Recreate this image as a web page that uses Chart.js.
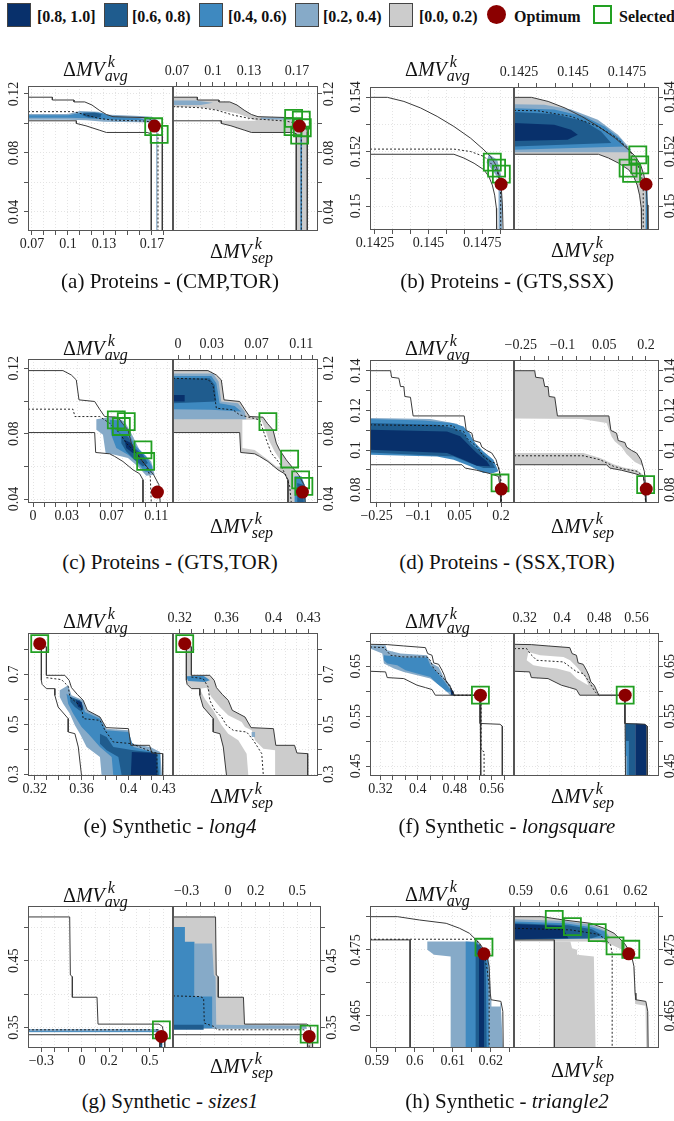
<!DOCTYPE html>
<html>
<head>
<meta charset="utf-8">
<script src="https://cdn.jsdelivr.net/npm/chart.js@4.4.1/dist/chart.umd.min.js"></script>
<style>
  body { margin: 0; width: 674px; height: 1121px; position: relative; overflow: hidden; background: #fff; font-family: "Liberation Serif", serif; color: #111; }
  canvas { position: absolute; }
  .lg { position: absolute; top: 3px; width: 22px; height: 22px; border: 1px solid #444; }
  .lt { position: absolute; top: 9px; font-weight: bold; font-size: 16px; line-height: 16px; white-space: nowrap; }
  .ttl { position: absolute; font-size: 20px; line-height: 20px; white-space: nowrap; }
  .ttl .s { position: relative; }
  .ttl .s i { position: absolute; font-size: 16px; line-height: 16px; }
  .cap { position: absolute; width: 340px; text-align: center; font-size: 21px; line-height: 21px; white-space: nowrap; }
</style>
</head>
<body>
<div class="lg" style="left:7px;background:#08306b"></div><div class="lt" style="left:37px">[0.8, 1.0]</div>
<div class="lg" style="left:104px;background:#1f5c8e"></div><div class="lt" style="left:132px">[0.6, 0.8)</div>
<div class="lg" style="left:199px;background:#3e89c0"></div><div class="lt" style="left:228px">[0.4, 0.6)</div>
<div class="lg" style="left:295px;background:#86aac8"></div><div class="lt" style="left:323px">[0.2, 0.4)</div>
<div class="lg" style="left:389px;background:#cccccc"></div><div class="lt" style="left:419px">[0.0, 0.2)</div>
<div style="position:absolute;left:487px;top:5px;width:19px;height:19px;border-radius:50%;background:#8b0000"></div><div class="lt" style="left:514px">Optimum</div>
<div style="position:absolute;left:593px;top:5px;width:15px;height:15px;border:2px solid #22a022"></div><div class="lt" style="left:619px">Selected</div>

<script>
// ---- (a) Proteins - (CMP,TOR)
const aXRange = [0.0667, 0.1875];
const aYRange = [0.0271, 0.1254];
const aXTicks = [0.07, 0.08, 0.09, 0.1, 0.11, 0.12, 0.13, 0.14, 0.15, 0.16, 0.17, 0.18];
const aXLabels = ['0.07', '', '', '0.1', '', '', '0.13', '', '', '', '0.17', ''];
const aYTicks = [0.04, 0.06, 0.08, 0.1, 0.12];
const aYLabels = ['0.04', '', '0.08', '', '0.12'];
const aUpper = [[0.0667,0.1178],[0.087,0.1178],[0.087,0.1159],[0.105,0.1159],[0.105,0.1146],[0.114,0.1146],[0.12,0.1125],[0.126,0.109],[0.132,0.1061],[0.1375,0.1046],[0.1667,0.1039],[0.1708,0.1012],[0.175,0.099],[0.1778,0.0978],[0.1786,0.0944],[0.1786,0.0271]];
const aLower = [[0.0667,0.1018],[0.107,0.1018],[0.107,0.1],[0.115,0.0984],[0.126,0.0955],[0.132,0.0939],[0.166,0.0939],[0.1694,0.093],[0.1694,0.0271]];
const aMedL = [[0.0667,0.108],[0.105,0.108],[0.115,0.1057],[0.126,0.1034],[0.1375,0.1023],[0.165,0.1016],[0.1736,0.1],[0.175,0.098],[0.175,0.0271]];
const aMedR = [[0.0667,0.1114],[0.0889,0.1107],[0.1028,0.1091],[0.1167,0.1057],[0.1306,0.1034],[0.1611,0.1016],[0.1722,0.0995],[0.1736,0.097],[0.1736,0.0271]];
const aFillL = [
  [1, [[0.0667,0.1065],[0.1,0.1065],[0.11,0.1085],[0.125,0.108],[0.13,0.106],[0.16,0.105],[0.17,0.1045],[0.175,0.102],[0.175,0.1005],[0.16,0.1008],[0.13,0.1012],[0.115,0.1022],[0.1,0.1025],[0.0667,0.1025]]],
  [2, [[0.0667,0.1055],[0.1,0.1055],[0.112,0.1075],[0.128,0.1072],[0.135,0.105],[0.16,0.1035],[0.165,0.1022],[0.135,0.1025],[0.115,0.1035],[0.1,0.1038],[0.0667,0.1038]]],
  [3, [[0.113,0.1072],[0.122,0.1075],[0.128,0.1065],[0.127,0.104],[0.117,0.104],[0.112,0.1055]]],
  [1, [[0.1735,0.098],[0.1745,0.098],[0.1745,0.0271],[0.1735,0.0271]]]
];
const aFillR = [
  [0, [[0.0667,0.1178],[0.087,0.1178],[0.087,0.1159],[0.105,0.1159],[0.105,0.1146],[0.114,0.1146],[0.12,0.1125],[0.126,0.109],[0.132,0.1061],[0.1375,0.1046],[0.1667,0.1039],[0.1667,0.101],[0.14,0.1005],[0.128,0.1045],[0.12,0.107],[0.105,0.109],[0.09,0.111],[0.0667,0.1112]]],
  [0, [[0.105,0.1018],[0.166,0.1018],[0.1694,0.1],[0.1694,0.093],[0.166,0.0939],[0.132,0.0939],[0.126,0.0955],[0.115,0.0984],[0.107,0.1]]],
  [0, [[0.1694,0.1005],[0.1786,0.0985],[0.1786,0.0271],[0.1694,0.0271]]],
  [1, [[0.0667,0.1155],[0.085,0.1155],[0.1,0.114],[0.09,0.1125],[0.0667,0.1125]]],
  [1, [[0.14,0.104],[0.165,0.104],[0.165,0.1025],[0.14,0.1028]]],
  [2, [[0.1728,0.098],[0.1742,0.098],[0.1742,0.0271],[0.1728,0.0271]]]
];
const aOpt = [0.172, 0.0982];
const aSelL = [[0.1714,0.0978],[0.176,0.0926]];
const aSelR = [[0.1672,0.1034],[0.1736,0.1023],[0.1667,0.0978],[0.1744,0.0971],[0.1722,0.0921]];

// ---- (b) Proteins - (GTS,SSX)
const bXRange = [0.14227, 0.14898];
const bYRange = [0.14912, 0.15437];
const bXTicks = [0.1425, 0.14333, 0.14417, 0.145, 0.14583, 0.14667, 0.1475, 0.14833];
const bXLabels = ['0.1425', '', '', '0.145', '', '', '0.1475', ''];
const bYTicks = [0.15, 0.151, 0.152, 0.153, 0.154];
const bYLabels = ['0.15', '', '0.152', '', '0.154'];
const bUpper = [[0.14227,0.15399],[0.14308,0.15399],[0.14385,0.15384],[0.14463,0.1536],[0.1454,0.15329],[0.14618,0.15292],[0.14696,0.15249],[0.14758,0.15206],[0.14789,0.15182],[0.14813,0.15151],[0.14828,0.15114],[0.14839,0.15065],[0.14844,0.15004],[0.14847,0.14912]];
const bLower = [[0.14227,0.1519],[0.14618,0.1519],[0.14665,0.15176],[0.14712,0.15157],[0.14758,0.15133],[0.14781,0.15108],[0.14797,0.15077],[0.14808,0.1504],[0.14816,0.14992],[0.14817,0.14912]];
const bMedL = [[0.14227,0.15209],[0.14618,0.15209],[0.14696,0.152],[0.14758,0.15182],[0.14797,0.15151],[0.1482,0.15127],[0.14831,0.1509],[0.14836,0.15041],[0.14836,0.14912]];
const bMedR = [[0.14227,0.15351],[0.14336,0.1535],[0.14491,0.15329],[0.14615,0.15292],[0.14693,0.15255],[0.14755,0.15212],[0.14794,0.15163],[0.14817,0.15114],[0.14825,0.15065],[0.14825,0.14912]];
const bFillL = [
  [1, [[0.1478,0.1519],[0.1482,0.1517],[0.14842,0.151],[0.14842,0.14912],[0.14828,0.14912],[0.14826,0.151],[0.1477,0.1516]]]
];
const bFillR = [
  [0, 'env'],
  [1, [[0.14227,0.15374],[0.14367,0.15372],[0.14491,0.15354],[0.14615,0.15317],[0.14708,0.15262],[0.1477,0.15206],[0.14755,0.15197],[0.14227,0.15197]]],
  [2, [[0.14227,0.15359],[0.14413,0.15354],[0.14553,0.15329],[0.14646,0.15292],[0.14724,0.15243],[0.1474,0.15219],[0.14227,0.15207]]],
  [3, [[0.14227,0.15345],[0.14413,0.15338],[0.14553,0.15311],[0.1463,0.15274],[0.14677,0.15231],[0.14227,0.15219]]],
  [4, [[0.14227,0.15305],[0.14413,0.15298],[0.14491,0.1528],[0.14522,0.15262],[0.14475,0.15243],[0.14227,0.15239]]],
  [2, [[0.14836,0.15065],[0.14845,0.15065],[0.14845,0.14912],[0.14836,0.14912]]]
];
const bOpt = [0.14838, 0.1508];
const bSelL = [[0.14797,0.15161],[0.14817,0.15139],[0.14839,0.15117]];
const bSelR = [[0.148,0.15188],[0.14755,0.15139],[0.14809,0.15151],[0.14771,0.1512]];

// ---- (c) Proteins - (GTS,TOR)
const cXRange = [-0.0045, 0.1249];
const cYRange = [0.0376, 0.1257];
const cXTicks = [0, 0.01, 0.02, 0.03, 0.04, 0.05, 0.06, 0.07, 0.08, 0.09, 0.1, 0.11, 0.12];
const cXLabels = ['0', '', '', '0.03', '', '', '', '0.07', '', '', '', '0.11', ''];
const cYTicks = [0.04, 0.06, 0.08, 0.1, 0.12];
const cYLabels = ['0.04', '', '0.08', '', '0.12'];
const cUpper = [[-0.0045,0.1186],[0.0267,0.1186],[0.0342,0.1159],[0.0386,0.1129],[0.041,0.1007],[0.055,0.0997],[0.0594,0.095],[0.0639,0.0905],[0.0758,0.0901],[0.0796,0.0864],[0.0847,0.0824],[0.0877,0.0742],[0.0906,0.0701],[0.0966,0.064],[0.1025,0.059],[0.1076,0.0549],[0.1123,0.0488],[0.1135,0.0376]];
const cLower = [[-0.0045,0.0807],[0.055,0.0807],[0.0559,0.0685],[0.0684,0.0677],[0.0728,0.0661],[0.0802,0.063],[0.0892,0.0579],[0.0951,0.0555],[0.0981,0.0518],[0.0981,0.0376]];
const cMedL = [[-0.0045,0.095],[0.0356,0.095],[0.0374,0.0905],[0.0594,0.0905],[0.0684,0.0864],[0.0773,0.0803],[0.0832,0.0742],[0.0921,0.0681],[0.1011,0.06],[0.1046,0.0539],[0.1055,0.0376]];
const cMedR = [[-0.0045,0.1139],[0.0267,0.1133],[0.0312,0.1098],[0.0342,0.0956],[0.049,0.0946],[0.055,0.0915],[0.0728,0.0885],[0.0758,0.0824],[0.0788,0.0763],[0.0832,0.0681],[0.0906,0.062],[0.0966,0.0539],[0.0996,0.0478],[0.1011,0.0376]];
const cFillL = [
  [1, [[0.0565,0.0889],[0.0728,0.0905],[0.0817,0.0874],[0.0877,0.0803],[0.0951,0.0701],[0.1055,0.063],[0.1085,0.0549],[0.1011,0.0543],[0.0936,0.06],[0.0847,0.0651],[0.0728,0.0671],[0.0648,0.0681],[0.0624,0.0793],[0.0565,0.0824]]],
  [2, [[0.0684,0.0885],[0.0788,0.0881],[0.0847,0.0813],[0.0906,0.0732],[0.1011,0.0661],[0.1064,0.06],[0.1055,0.0559],[0.0996,0.0569],[0.0921,0.063],[0.0847,0.0671],[0.0743,0.0712],[0.0698,0.0793]]],
  [3, [[0.0788,0.0793],[0.0847,0.0783],[0.0906,0.0712],[0.0981,0.0671],[0.1025,0.062],[0.0981,0.06],[0.0906,0.064],[0.0832,0.0691],[0.0788,0.0742]]],
  [4, [[0.0817,0.0763],[0.0877,0.0742],[0.0921,0.0691],[0.0892,0.0681],[0.0832,0.0712]]]
];
const cFillR = [
  [0, 'env'],
  [-1, [[0.0574,0.0885],[0.0743,0.0885],[0.0779,0.0824],[0.0808,0.0763],[0.0862,0.0691],[0.0921,0.063],[0.0927,0.06],[0.0877,0.06],[0.0802,0.064],[0.0684,0.0701],[0.0574,0.0712]]],
  [1, [[-0.0045,0.1169],[0.0312,0.1169],[0.0362,0.1119],[0.0386,0.0997],[0.0535,0.0986],[0.0594,0.0936],[0.0609,0.0889],[-0.0045,0.0889]]],
  [2, [[-0.0045,0.1153],[0.0297,0.1153],[0.0342,0.1108],[0.0371,0.0986],[0.0505,0.097],[0.0565,0.0936],[0.0297,0.0946],[-0.0045,0.095]]],
  [3, [[-0.0045,0.1139],[0.0282,0.1139],[0.0327,0.1098],[0.0342,0.0997],[-0.0045,0.0986]]],
  [4, [[-0.0045,0.1037],[0.0059,0.1037],[0.0059,0.0997],[-0.0045,0.0997]]],
  [2, [[0.104,0.0539],[0.11,0.0539],[0.1135,0.0478],[0.1141,0.0376],[0.104,0.0376]]],
  [3, [[0.1064,0.0498],[0.1114,0.0488],[0.1123,0.0376],[0.1064,0.0376]]]
];
const cOpt = [0.111, 0.0443];
const cSelL = [[0.0743,0.0885],[0.0832,0.0874],[0.0788,0.0844],[0.0981,0.0701],[0.1005,0.063]];
const cSelR = [[0.0802,0.0874],[0.0996,0.0645],[0.1094,0.0518],[0.1123,0.0478]];

// ---- (d) Proteins - (SSX,TOR)
const dXRange = [-0.274, 0.2468];
const dYRange = [0.0733, 0.1454];
const dXTicks = [-0.25, -0.2, -0.15, -0.1, -0.05, 0, 0.05, 0.1, 0.15, 0.2];
const dXLabels = ['\u22120.25', '', '', '\u22120.1', '', '', '0.05', '', '', '0.2'];
const dYTicks = [0.08, 0.09, 0.1, 0.11, 0.12, 0.13, 0.14];
const dYLabels = ['0.08', '', '0.1', '', '0.12', '', '0.14'];
const dUpper = [[-0.274,0.14],[-0.1996,0.14],[-0.196,0.1367],[-0.1696,0.1362],[-0.1636,0.132],[-0.1516,0.132],[-0.148,0.127],[-0.1276,0.1266],[-0.118,0.1172],[0.0668,0.1172],[0.074,0.1099],[0.0944,0.1085],[0.1004,0.1048],[0.1244,0.1038],[0.1304,0.1015],[0.1484,0.0998],[0.1664,0.0985],[0.182,0.0951],[0.194,0.0893],[0.1988,0.0817],[0.2012,0.0733]];
const dLower = [[-0.274,0.0926],[0.0584,0.0926],[0.0704,0.0909],[0.1124,0.0898],[0.1604,0.0881],[0.1904,0.0867],[0.1964,0.0817],[0.1988,0.0733]];
const dMedL = [[-0.274,0.1127],[0.0284,0.1122],[0.0344,0.1102],[0.0644,0.1094],[0.0764,0.106],[0.0884,0.1043],[0.1124,0.1018],[0.1364,0.0968],[0.1604,0.0943],[0.1784,0.0934],[0.1904,0.0918],[0.1988,0.0867],[0.2012,0.0733]];
const dMedR = [[-0.274,0.0971],[-0.0244,0.0971],[0.0356,0.0951],[0.0836,0.0918],[0.1196,0.0904],[0.1676,0.0893],[0.1916,0.0867],[0.1988,0.0733]];
const dFillL = [
  [1, [[-0.274,0.1161],[-0.055,0.1156],[0.0404,0.1133],[0.0824,0.1094],[0.0944,0.1069],[0.0644,0.1085],[-0.274,0.1145]]],
  [2, [[-0.274,0.1156],[-0.0796,0.1149],[0.0224,0.1136],[0.0644,0.1119],[0.0884,0.1077],[0.1064,0.1035],[0.1364,0.0993],[0.1724,0.0951],[0.1904,0.0893],[0.1724,0.0884],[0.1364,0.0884],[0.0884,0.0918],[0.0284,0.0951],[-0.0316,0.0968],[-0.274,0.0976]]],
  [3, [[-0.274,0.1136],[-0.0316,0.1127],[0.0284,0.111],[0.0644,0.1085],[0.0884,0.1035],[0.1244,0.0993],[0.1664,0.0943],[0.1784,0.0909],[0.1364,0.0909],[0.0884,0.0934],[0.0284,0.0968],[-0.274,0.0988]]],
  [4, [[-0.274,0.1102],[0.0044,0.1094],[0.0524,0.1069],[0.0824,0.1027],[0.1124,0.0985],[0.1484,0.0943],[0.1604,0.0918],[0.1124,0.0921],[0.0644,0.0951],[0.0044,0.0985],[-0.274,0.1001]]]
];
const dFillR = [
  [0, [[-0.274,0.14],[-0.1996,0.14],[-0.196,0.1367],[-0.1696,0.1362],[-0.1636,0.132],[-0.1516,0.132],[-0.148,0.127],[-0.1276,0.1266],[-0.118,0.1172],[0.0668,0.1172],[0.074,0.1099],[0.0944,0.1085],[0.1004,0.1048],[0.1244,0.1038],[0.1304,0.1015],[0.1484,0.0998],[0.1664,0.0985],[0.182,0.0951],[0.1904,0.0918],[0.16,0.094],[0.13,0.098],[0.1124,0.1015],[0.0884,0.1043],[0.0764,0.1068],[0.0584,0.1136],[-0.0316,0.1156],[-0.274,0.1159]]],
  [0, [[-0.274,0.0985],[-0.0244,0.0985],[0.0356,0.096],[0.0836,0.0928],[0.1196,0.0912],[0.1676,0.09],[0.1916,0.0873],[0.1964,0.0817],[0.1904,0.0867],[0.1604,0.0881],[0.1124,0.0898],[0.0704,0.0909],[0.0584,0.0926],[-0.274,0.0926]]],
  [2, [[0.1975,0.0817],[0.2012,0.0817],[0.2012,0.0733],[0.1975,0.0733]]]
];
const dOpt = [0.201, 0.0803];
const dSelL = [[0.1964,0.0834]];
const dSelR = [[0.1988,0.0826]];

// ---- (e) Synthetic - long4
const eXRange = [0.3143, 0.438];
const eYRange = [0.2933, 0.8653];
const eXTicks = [0.32, 0.33, 0.34, 0.35, 0.36, 0.37, 0.38, 0.39, 0.4, 0.41, 0.42, 0.43];
const eXLabels = ['0.32', '', '', '', '0.36', '', '', '', '0.4', '', '', '0.43'];
const eYTicks = [0.3, 0.4, 0.5, 0.6, 0.7, 0.8];
const eYLabels = ['0.3', '', '0.5', '', '0.7', ''];
const eUpper = [[0.3257,0.81],[0.33,0.81],[0.33,0.696],[0.3457,0.696],[0.3494,0.676],[0.3514,0.6467],[0.3563,0.62],[0.3614,0.596],[0.3649,0.556],[0.3757,0.5293],[0.3809,0.4867],[0.4,0.4827],[0.402,0.416],[0.418,0.416],[0.42,0.3854],[0.4292,0.3827],[0.4292,0.2933]];
const eLower = [[0.3257,0.81],[0.3257,0.676],[0.3263,0.66],[0.33,0.6427],[0.3372,0.6427],[0.3372,0.616],[0.34,0.5693],[0.3486,0.5227],[0.3486,0.4693],[0.3543,0.4627],[0.3572,0.4094],[0.36,0.2933]];
const eMedL = [[0.33,0.6867],[0.3429,0.6787],[0.3486,0.652],[0.35,0.6093],[0.36,0.5693],[0.3614,0.5227],[0.3757,0.516],[0.38,0.476],[0.3871,0.4293],[0.4029,0.4227],[0.42,0.3893],[0.4243,0.3854],[0.4243,0.2933]];
const eMedR = [[0.33,0.6893],[0.34,0.6827],[0.3443,0.6493],[0.3457,0.596],[0.35,0.556],[0.3557,0.5293],[0.36,0.496],[0.3657,0.476],[0.3771,0.4693],[0.3829,0.436],[0.39,0.3827],[0.3914,0.2933]];
const eFillL = [
  [1, [[0.3414,0.636],[0.3486,0.656],[0.3514,0.616],[0.3614,0.596],[0.3643,0.556],[0.3757,0.5293],[0.3814,0.4827],[0.4,0.476],[0.4029,0.4227],[0.4186,0.4094],[0.4271,0.3893],[0.4286,0.2933],[0.3771,0.2933],[0.3757,0.3693],[0.3643,0.4094],[0.3586,0.4627],[0.3543,0.496],[0.35,0.5427],[0.3443,0.5827],[0.3414,0.6093]]],
  [2, [[0.3471,0.6227],[0.3514,0.6093],[0.36,0.5893],[0.3629,0.5493],[0.3757,0.5227],[0.3809,0.476],[0.4,0.4693],[0.4043,0.4094],[0.4271,0.3827],[0.4271,0.2933],[0.3871,0.2933],[0.3857,0.3693],[0.3757,0.4094],[0.3657,0.4627],[0.36,0.4893],[0.3529,0.5427],[0.3486,0.5827]]],
  [3, [[0.35,0.6093],[0.3586,0.596],[0.3614,0.5693],[0.36,0.5493],[0.3543,0.5693],[0.3506,0.5893]]],
  [3, [[0.3757,0.4627],[0.3814,0.4493],[0.3871,0.4094],[0.4043,0.396],[0.4243,0.3854],[0.426,0.2933],[0.3943,0.2933],[0.3914,0.3693],[0.3814,0.396],[0.3757,0.4227]]],
  [4, [[0.3551,0.596],[0.36,0.5893],[0.3609,0.5627],[0.3571,0.5693]]],
  [4, [[0.4029,0.3893],[0.4237,0.3854],[0.4243,0.2933],[0.402,0.2933]]]
];
const eFillR = [
  [0, 'env'],
  [-1, [[0.3371,0.6427],[0.3429,0.6467],[0.3471,0.6093],[0.3543,0.5693],[0.3614,0.536],[0.3729,0.5093],[0.3757,0.4893],[0.3814,0.476],[0.3843,0.436],[0.3914,0.4027],[0.4014,0.396],[0.4014,0.2933],[0.3786,0.2933],[0.3771,0.3827],[0.37,0.436],[0.3614,0.4627],[0.3557,0.4973],[0.3486,0.556],[0.3414,0.6027]]],
  [2, [[0.3257,0.692],[0.34,0.6947],[0.3429,0.6867],[0.3457,0.676],[0.3414,0.6693],[0.3271,0.6733]]],
  [1, [[0.3814,0.4693],[0.3843,0.4693],[0.3843,0.4493],[0.3814,0.4493]]]
];
const eOpt = [0.3243, 0.8226];
const eSelL = [[0.3243,0.8226]];
const eSelR = [[0.3243,0.8226]];

// ---- (f) Synthetic - longsquare
const fXRange = [0.2971, 0.608];
const fYRange = [0.43, 0.7167];
const fXTicks = [0.32, 0.3467, 0.3733, 0.4, 0.4267, 0.4533, 0.48, 0.5067, 0.5333, 0.56, 0.5867];
const fXLabels = ['0.32', '', '', '0.4', '', '', '0.48', '', '', '0.56', ''];
const fYTicks = [0.45, 0.5, 0.55, 0.6, 0.65, 0.7];
const fYLabels = ['0.45', '', '0.55', '', '0.65', ''];
const fUpper = [[0.2971,0.694],[0.3343,0.6934],[0.3701,0.6907],[0.4167,0.6874],[0.4217,0.6754],[0.431,0.672],[0.4346,0.6567],[0.4453,0.654],[0.4525,0.642],[0.4575,0.632],[0.4618,0.6187],[0.469,0.612],[0.474,0.602],[0.479,0.592],[0.5348,0.592],[0.5348,0.5353],[0.5777,0.5337],[0.5828,0.53],[0.5828,0.43]];
const fLower = [[0.2971,0.64],[0.3307,0.6387],[0.3343,0.6273],[0.3701,0.6253],[0.3988,0.612],[0.4167,0.6073],[0.431,0.6033],[0.4381,0.592],[0.5348,0.592],[0.5362,0.43]];
const fMedL = [[0.2971,0.6887],[0.3272,0.6874],[0.3415,0.672],[0.3701,0.6687],[0.4202,0.6687],[0.4274,0.662],[0.4346,0.6454],[0.4489,0.632],[0.4632,0.6187],[0.474,0.602],[0.4775,0.592],[0.537,0.592],[0.537,0.482],[0.5434,0.4786],[0.5434,0.43]];
const fMedR = [[0.2971,0.6854],[0.3243,0.6854],[0.3315,0.6754],[0.3458,0.662],[0.4031,0.6587],[0.4174,0.6487],[0.4317,0.6387],[0.446,0.6354],[0.4603,0.6154],[0.4711,0.5987],[0.4782,0.592]];
const fFillL = [
  [1, [[0.2971,0.692],[0.3307,0.692],[0.3343,0.682],[0.363,0.6754],[0.4202,0.672],[0.431,0.6554],[0.4453,0.6487],[0.456,0.6287],[0.4704,0.612],[0.4775,0.592],[0.4704,0.592],[0.456,0.6054],[0.4417,0.6154],[0.4274,0.6254],[0.3988,0.632],[0.3701,0.6387],[0.3487,0.6454],[0.3272,0.6554],[0.3236,0.6754],[0.2971,0.6854]]],
  [2, [[0.3272,0.672],[0.3701,0.6674],[0.4202,0.6674],[0.4274,0.652],[0.4381,0.642],[0.456,0.622],[0.474,0.5987],[0.4632,0.5987],[0.4417,0.6154],[0.4274,0.6287],[0.3988,0.6354],[0.3737,0.642],[0.3558,0.652],[0.3343,0.6554],[0.3272,0.662]]],
  [4, [[0.4704,0.6054],[0.4775,0.6],[0.479,0.592],[0.4725,0.592]]]
];
const fFillR = [
  [0, [[0.2971,0.694],[0.3343,0.6934],[0.3701,0.6907],[0.4167,0.6874],[0.4217,0.6754],[0.431,0.672],[0.4346,0.6567],[0.4453,0.654],[0.4525,0.642],[0.4575,0.632],[0.4618,0.6187],[0.469,0.612],[0.474,0.602],[0.479,0.592],[0.4381,0.592],[0.431,0.6033],[0.4167,0.6073],[0.3988,0.612],[0.3701,0.6253],[0.3343,0.6273],[0.3307,0.6387],[0.2971,0.64]]],
  [-1, [[0.3279,0.6787],[0.353,0.672],[0.4031,0.6687],[0.4174,0.662],[0.4317,0.6487],[0.4496,0.6287],[0.4568,0.612],[0.4496,0.6154],[0.4317,0.6254],[0.4174,0.6387],[0.3888,0.6454],[0.3601,0.6487],[0.3386,0.652],[0.3243,0.662]]],
  [3, [[0.5355,0.5353],[0.557,0.5353],[0.557,0.43],[0.5355,0.43]]],
  [4, [[0.557,0.5353],[0.5777,0.5345],[0.5815,0.531],[0.5815,0.43],[0.557,0.43]]],
  [2, [[0.5362,0.5],[0.5434,0.5],[0.5434,0.43],[0.5362,0.43]]],
  [1, [[0.5362,0.47],[0.5392,0.47],[0.5392,0.43],[0.5362,0.43]]]
];
const fOpt = [0.5355, 0.592];
const fSelL = [[0.5355,0.592]];
const fSelR = [[0.5355,0.592]];

// ---- (g) Synthetic - sizes1
const gXRange = [-0.3985, 0.6724];
const gYRange = [0.3192, 0.5321];
const gXTicks = [-0.3, -0.2, -0.1, 0, 0.1, 0.2, 0.3, 0.4, 0.5, 0.6];
const gXLabels = ['\u22120.3', '', '', '0', '', '0.2', '', '', '0.5', ''];
const gYTicks = [0.35, 0.4, 0.45, 0.5];
const gYLabels = ['0.35', '', '0.45', ''];
const gUpper = [[-0.3985,0.5157],[-0.0906,0.5157],[-0.0857,0.4286],[-0.0709,0.4261],[-0.0709,0.3953],[0.1113,0.3953],[0.1187,0.355],[0.5694,0.355],[0.594,0.3515],[0.6113,0.3317],[0.6113,0.3192]];
const gLower = [[-0.3985,0.3391],[0.5744,0.3391],[0.5744,0.3192]];
const gMedL = [[-0.3985,0.3465],[0.5645,0.3465],[0.584,0.34],[0.584,0.3192]];
const gMedR = [[-0.3985,0.3973],[-0.2015,0.3963],[-0.1768,0.3938],[-0.1719,0.3565],[-0.1029,0.3515],[-0.0783,0.3465],[0.5498,0.3465],[0.5867,0.3416],[0.5867,0.3192]];
const gFillL = [
  [1, [[-0.3985,0.3475],[0.5694,0.3475],[0.5694,0.343],[-0.3985,0.343]]],
  [2, [[-0.3985,0.3447],[0.5694,0.3447],[0.5694,0.3435],[-0.3985,0.3435]]],
  [2, [[0.5744,0.3391],[0.594,0.3391],[0.594,0.3192],[0.5744,0.3192]]],
  [3, [[0.582,0.335],[0.59,0.335],[0.59,0.3192],[0.582,0.3192]]]
];
const gFillR = [
  [0, [[-0.3985,0.5157],[-0.0906,0.5157],[-0.0857,0.4286],[-0.0709,0.4261],[-0.066,0.3953],[0.1138,0.3953],[0.1187,0.355],[0.5498,0.355],[0.5694,0.3515],[0.5694,0.3475],[-0.3985,0.3475]]],
  [0, [[0.5744,0.3391],[0.6113,0.3391],[0.6113,0.3192],[0.5744,0.3192]]],
  [1, [[-0.2433,0.4759],[-0.1153,0.4759],[-0.1029,0.4286],[-0.0906,0.4261],[-0.0857,0.354],[0.5621,0.3525],[0.5694,0.348],[-0.2433,0.348]]],
  [2, [[-0.3985,0.5008],[-0.3123,0.5008],[-0.3123,0.4784],[-0.2433,0.4784],[-0.2433,0.3963],[-0.1153,0.3963],[-0.1153,0.349],[-0.3985,0.349]]],
  [3, [[-0.3985,0.354],[-0.1768,0.354],[-0.1768,0.3465],[-0.3985,0.3465]]]
];
const gOpt = [0.5867, 0.3366];
const gSelL = [[0.5867,0.3465]];
const gSelR = [[0.5867,0.34]];

// ---- (h) Synthetic - triangle2
const hXRange = [0.58825, 0.62614];
const hYRange = [0.4601, 0.48167];
const hXTicks = [0.59, 0.595, 0.6, 0.605, 0.61, 0.615, 0.62, 0.625];
const hXLabels = ['0.59', '', '0.6', '', '0.61', '', '0.62', ''];
const hYTicks = [0.465, 0.47, 0.475, 0.48];
const hYLabels = ['0.465', '', '0.475', ''];
const hUpper = [[0.58825,0.48005],[0.5955,0.48005],[0.6012,0.47955],[0.6083,0.47904],[0.6118,0.47829],[0.6144,0.47753],[0.6171,0.47601],[0.6188,0.4745],[0.6196,0.47248],[0.6199,0.46844],[0.6201,0.46743],[0.6227,0.46718],[0.6232,0.46566],[0.6233,0.4601]];
const hLower = [[0.58825,0.47652],[0.5988,0.47652],[0.5988,0.4601]];
const hMedL = [[0.58825,0.47662],[0.6161,0.47662],[0.6174,0.47551],[0.6182,0.4745],[0.6191,0.47197],[0.6196,0.46945],[0.6196,0.4601]];
const hMedR = [[0.58825,0.47829],[0.603,0.47804],[0.61,0.4774],[0.6118,0.4768],[0.6135,0.47576],[0.6139,0.4745],[0.6139,0.4601]];
const hFillL = [
  [1, [[0.60333,0.47627],[0.61649,0.47627],[0.61824,0.47501],[0.6196,0.4735],[0.62,0.46743],[0.62263,0.46692],[0.62324,0.4601],[0.60947,0.4601],[0.60947,0.47399],[0.6051,0.47425],[0.60333,0.47501]]],
  [-1, [[0.6202,0.4674],[0.6225,0.4674],[0.6225,0.4664],[0.6202,0.4664]]],
  [2, [[0.61342,0.47627],[0.61649,0.47612],[0.61824,0.47475],[0.61929,0.47299],[0.6196,0.4601],[0.61342,0.4601]]],
  [3, [[0.61605,0.47601],[0.61737,0.47551],[0.61868,0.47399],[0.61895,0.4601],[0.61605,0.4601]]],
  [4, [[0.61693,0.47501],[0.61824,0.47475],[0.61824,0.4601],[0.61693,0.4601]]]
];
const hFillR = [
  [0, [[0.58825,0.48005],[0.5955,0.48005],[0.6012,0.47955],[0.6083,0.47904],[0.6118,0.47829],[0.6144,0.47753],[0.6171,0.47601],[0.6188,0.4745],[0.6165,0.47501],[0.6139,0.47576],[0.6104,0.47627],[0.58825,0.47627]]],
  [1, [[0.58825,0.47965],[0.60158,0.4794],[0.6086,0.47879],[0.6121,0.47793],[0.61342,0.47677],[0.58825,0.47652]]],
  [2, [[0.58825,0.4793],[0.60158,0.47904],[0.6086,0.47844],[0.61202,0.47778],[0.61289,0.47677],[0.58825,0.47662]]],
  [3, [[0.58825,0.47904],[0.60246,0.47874],[0.6086,0.47814],[0.61123,0.47728],[0.6086,0.47677],[0.58825,0.47662]]],
  [4, [[0.58825,0.47894],[0.6007,0.47864],[0.60246,0.47677],[0.58825,0.47662]]],
  [0, [[0.5988,0.47627],[0.60298,0.47627],[0.60342,0.47526],[0.60474,0.47501],[0.60474,0.47425],[0.60912,0.47399],[0.60956,0.4601],[0.5988,0.4601]]],
  [0, [[0.6196,0.47248],[0.6199,0.46844],[0.6201,0.46743],[0.6227,0.46718],[0.6232,0.46566],[0.6233,0.4601],[0.6228,0.4601],[0.6226,0.4665],[0.6199,0.4668],[0.6194,0.4725]]]
];
const hOpt = [0.61824, 0.4744];
const hSelL = [[0.61824,0.47541]];
const hSelR = [[0.59877,0.47965],[0.60351,0.47854],[0.61,0.47763],[0.61465,0.47561],[0.61877,0.4751]];

// colour for each value bin (-1 = no value, page background)
const PAL = {'-1': '#ffffff', 0: '#cccccc', 1: '#86aac8', 2: '#3e89c0', 3: '#1f5c8e', 4: '#08306b'};

const panels = [
  {X: aXRange, Y: aYRange, xt: aXTicks, xl: aXLabels, yt: aYTicks, yl: aYLabels, up: aUpper, lo: aLower, medL: aMedL, medR: aMedR, fillL: aFillL, fillR: aFillR, opt: aOpt, selL: aSelL, selR: aSelR, cap: '(a) Proteins - (CMP,TOR)'},
  {X: bXRange, Y: bYRange, xt: bXTicks, xl: bXLabels, yt: bYTicks, yl: bYLabels, up: bUpper, lo: bLower, medL: bMedL, medR: bMedR, fillL: bFillL, fillR: bFillR, opt: bOpt, selL: bSelL, selR: bSelR, cap: '(b) Proteins - (GTS,SSX)'},
  {X: cXRange, Y: cYRange, xt: cXTicks, xl: cXLabels, yt: cYTicks, yl: cYLabels, up: cUpper, lo: cLower, medL: cMedL, medR: cMedR, fillL: cFillL, fillR: cFillR, opt: cOpt, selL: cSelL, selR: cSelR, cap: '(c) Proteins - (GTS,TOR)'},
  {X: dXRange, Y: dYRange, xt: dXTicks, xl: dXLabels, yt: dYTicks, yl: dYLabels, up: dUpper, lo: dLower, medL: dMedL, medR: dMedR, fillL: dFillL, fillR: dFillR, opt: dOpt, selL: dSelL, selR: dSelR, cap: '(d) Proteins - (SSX,TOR)'},
  {X: eXRange, Y: eYRange, xt: eXTicks, xl: eXLabels, yt: eYTicks, yl: eYLabels, up: eUpper, lo: eLower, medL: eMedL, medR: eMedR, fillL: eFillL, fillR: eFillR, opt: eOpt, selL: eSelL, selR: eSelR, cap: '(e) Synthetic - <i>long4</i>'},
  {X: fXRange, Y: fYRange, xt: fXTicks, xl: fXLabels, yt: fYTicks, yl: fYLabels, up: fUpper, lo: fLower, medL: fMedL, medR: fMedR, fillL: fFillL, fillR: fFillR, opt: fOpt, selL: fSelL, selR: fSelR, cap: '(f) Synthetic - <i>longsquare</i>'},
  {X: gXRange, Y: gYRange, xt: gXTicks, xl: gXLabels, yt: gYTicks, yl: gYLabels, up: gUpper, lo: gLower, medL: gMedL, medR: gMedR, fillL: gFillL, fillR: gFillR, opt: gOpt, selL: gSelL, selR: gSelR, cap: '(g) Synthetic - <i>sizes1</i>'},
  {X: hXRange, Y: hYRange, xt: hXTicks, xl: hXLabels, yt: hYTicks, yl: hYLabels, up: hUpper, lo: hLower, medL: hMedL, medR: hMedR, fillL: hFillL, fillR: hFillR, opt: hOpt, selL: hSelL, selR: hSelR, cap: '(h) Synthetic - <i>triangle2</i>'}
];

// where each panel sits on the page (plot box edges, title baselines)
const boxes = [
  {col: 0,   l: 28,  d: 173, r: 318, t: 86,  b: 231,  ta: 76,  ts: 258,  cb: 289},
  {col: 337, l: 370, d: 514, r: 659, t: 87,  b: 230,  ta: 76,  ts: 257,  cb: 289},
  {col: 0,   l: 28,  d: 173, r: 318, t: 359, b: 503,  ta: 355, ts: 533,  cb: 570},
  {col: 337, l: 370, d: 514, r: 659, t: 360, b: 503,  ta: 355, ts: 533,  cb: 570},
  {col: 0,   l: 28,  d: 173, r: 318, t: 633, b: 776,  ta: 628, ts: 803,  cb: 834},
  {col: 337, l: 370, d: 514, r: 659, t: 633, b: 776,  ta: 628, ts: 803,  cb: 834},
  {col: 0,   l: 28,  d: 173, r: 321, t: 906, b: 1048, ta: 902, ts: 1073, cb: 1109},
  {col: 337, l: 370, d: 514, r: 659, t: 906, b: 1048, ta: 901, ts: 1077, cb: 1109}
];

const FONT = 'Liberation Serif';
const SPARE = 30;   // room beside each plot for x tick labels that stick out
const VSPARE = 14;  // room above/below for upright y tick labels

// box around the plot area
const frame = {
  id: 'frame',
  afterDatasetsDraw(chart) {
    const {ctx, chartArea: a} = chart;
    ctx.save();
    ctx.strokeStyle = '#555';
    ctx.lineWidth = 1;
    ctx.strokeRect(Math.round(a.left) + 0.5, Math.round(a.top) + 0.5, Math.round(a.right - a.left) - 1, Math.round(a.bottom - a.top) - 1);
    ctx.restore();
  }
};

// y tick labels standing upright along the axis, as in R
const yText = {
  id: 'yText',
  afterDraw(chart) {
    const s = chart.scales.y, a = chart.chartArea, ctx = chart.ctx;
    const bx = s.position === 'right' ? a.right + 15 : a.left - 10;
    ctx.save();
    ctx.font = '14px "' + FONT + '"';
    ctx.fillStyle = '#222';
    ctx.textAlign = 'center';
    ctx.textBaseline = 'alphabetic';
    s.ticks.forEach(t => {
      if (!t.label) return;
      ctx.save();
      ctx.translate(bx, s.getPixelForValue(t.value));
      ctx.rotate(-Math.PI / 2);
      ctx.fillText(t.label, 0, 0);
      ctx.restore();
    });
    ctx.restore();
  }
};

const xy = arr => arr.map(p => ({x: p[0], y: p[1]}));

function scaleOpts(pos, range, ticks, labels, size, pad) {
  const vertical = pos === 'left' || pos === 'right';
  return {
    type: 'linear',
    position: pos,
    min: range[0],
    max: range[1],
    afterBuildTicks: s => { s.ticks = ticks.map(v => ({value: v})); },
    afterFit: s => {
      if (vertical) s.width = size; else s.height = size;
      s.paddingLeft = 0; s.paddingRight = 0; s.paddingTop = 0; s.paddingBottom = 0;
    },
    ticks: {
      display: !vertical,
      autoSkip: false,
      maxRotation: 0,
      minRotation: 0,
      padding: pad,
      font: {family: FONT, size: 14},
      color: '#222',
      callback: (v, i) => labels[i]
    },
    grid: {color: '#e4e4e4', lineWidth: 1, drawTicks: true, tickLength: 4, tickColor: '#555', tickWidth: 1},
    border: {display: false, dash: [1, 2]}
  };
}

function datasets(p, side) {
  const fills = side === 'L' ? p.fillL : p.fillR;
  const med = side === 'L' ? p.medL : p.medR;
  const sel = side === 'L' ? p.selL : p.selR;
  const out = [];
  let ord = 500;
  fills.forEach(f => {
    const poly = f[1] === 'env' ? p.up.concat(p.lo.slice().reverse()) : f[1];
    out.push({data: xy(poly), showLine: true, fill: 'shape', backgroundColor: PAL[f[0]], borderColor: PAL[f[0]], borderWidth: 0, pointRadius: 0, order: ord--});
  });
  out.push({data: xy(p.up), showLine: true, fill: false, borderColor: '#3a3a3a', borderWidth: 1, pointRadius: 0, order: 30});
  out.push({data: xy(p.lo), showLine: true, fill: false, borderColor: '#3a3a3a', borderWidth: 1, pointRadius: 0, order: 30});
  out.push({data: xy(med), showLine: true, fill: false, borderColor: '#111', borderWidth: 0.9, borderDash: [2, 2], pointRadius: 0, order: 20});
  out.push({data: xy(sel), showLine: false, pointStyle: 'rect', pointRadius: 12, pointBorderWidth: 1.8, pointBorderColor: '#22a022', pointBackgroundColor: 'rgba(0,0,0,0)', borderColor: '#22a022', backgroundColor: 'rgba(0,0,0,0)', clip: false, order: 5});
  out.push({data: xy([p.opt]), showLine: false, pointStyle: 'circle', pointRadius: 6.5, pointBorderWidth: 0, pointBackgroundColor: '#8b0000', pointBorderColor: '#8b0000', backgroundColor: '#8b0000', clip: false, order: 1});
  return out;
}

function makeCanvas(left, top, w, h) {
  const c = document.createElement('canvas');
  c.width = w; c.height = h;
  c.style.left = left + 'px';
  c.style.top = top + 'px';
  c.style.width = w + 'px';
  c.style.height = h + 'px';
  document.body.appendChild(c);
  return c;
}

function addText(cls, left, top, html) {
  const d = document.createElement('div');
  d.className = cls;
  d.style.left = left + 'px';
  d.style.top = top + 'px';
  d.innerHTML = html;
  document.body.appendChild(d);
}

panels.forEach((p, k) => {
  const B = boxes[k];
  const common = {
    responsive: false, animation: false, events: [],
    plugins: {legend: {display: false}, tooltip: {enabled: false}}
  };

  // left view: colour by the average
  const cl = makeCanvas(B.col, B.t - VSPARE, B.d - B.col + SPARE, B.b - B.t + VSPARE + 22);
  new Chart(cl, {
    type: 'scatter',
    data: {datasets: datasets(p, 'L')},
    options: Object.assign({}, common, {
      layout: {autoPadding: false, padding: {top: VSPARE, right: SPARE, left: 0, bottom: 0}},
      scales: {
        x: scaleOpts('bottom', p.X, p.xt, p.xl, 22, 1),
        y: scaleOpts('left', p.Y, p.yt, p.yl, B.l - B.col, 0)
      }
    }),
    plugins: [frame, yText]
  });

  // right view: colour by the separation
  const cr = makeCanvas(B.d - SPARE, B.t - 22, B.col + 337 - B.d + SPARE, B.b - B.t + 22 + VSPARE);
  new Chart(cr, {
    type: 'scatter',
    data: {datasets: datasets(p, 'R')},
    options: Object.assign({}, common, {
      layout: {autoPadding: false, padding: {top: 0, right: 0, left: SPARE, bottom: VSPARE}},
      scales: {
        x: scaleOpts('top', p.X, p.xt, p.xl, 22, 2),
        y: scaleOpts('right', p.Y, p.yt, p.yl, B.col + 337 - B.r, 0)
      }
    }),
    plugins: [frame, yText]
  });

  const scr = sub => '<span class="s"><i style="left:3px;top:-4px">k</i><i style="left:0;top:10px">' + sub + '</i></span>';
  addText('ttl', B.l + 35, B.ta - 17, '\u0394<i>MV</i>' + scr('avg'));
  addText('ttl', B.d + 37, B.ts - 17, '\u0394<i>MV</i>' + scr('sep'));
  addText('cap', B.col, B.cb - 18, p.cap);
});
</script>
</body>
</html>
